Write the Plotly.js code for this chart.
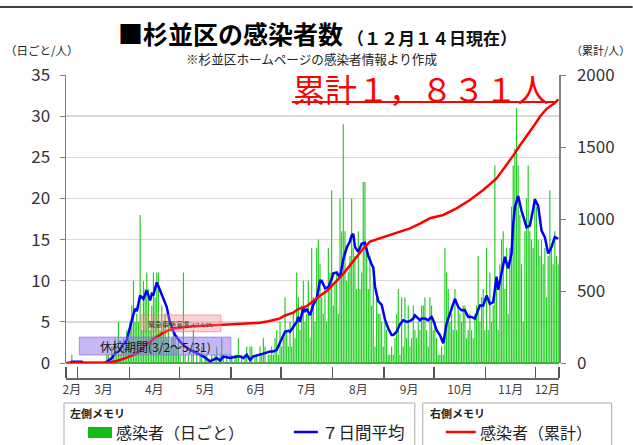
<!DOCTYPE html>
<html><head><meta charset="utf-8">
<script src="https://cdn.plot.ly/plotly-3.0.1.min.js"></script>
<style>html,body{margin:0;padding:0;background:#fff;}#chart{width:633px;height:445px;}</style>
</head><body><div id="chart"></div>
<script>
// ---- data ----
const startYear = 2020, startMonth = 1, startDay = 23; // 2020-02-23 = day index 0
const daily = [
 // Feb 23-29
 0,0,0,1,0,0,0,
 // Mar
 0,0,0,0,0,0,0,0,0,0,0,0,0,0,0,0,0,1,1,0,2,1,3,1,5,1,2,3,2,4,3,
 // Apr
 5,7,10,5,6,5,18,4,10,9,11,9,4,7,11,8,11,11,4,7,5,6,3,5,2,3,4,3,2,3,
 // May
 1,0,11,1,0,1,0,1,4,0,2,0,1,2,0,1,1,0,0,1,0,1,2,0,1,3,1,0,1,0,1,
 // Jun
 1,0,1,1,3,0,1,0,1,2,0,2,2,0,1,1,0,2,1,3,2,0,1,1,2,1,3,4,1,5,
 // Jul
 2,3,8,4,2,5,2,6,3,11,8,4,7,10,5,6,10,3,14,8,5,14,15,12,8,6,9,5,14,11,21,
 // Aug
 7,10,11,6,20,16,29,16,10,11,13,20,14,13,9,16,9,11,22,22,14,9,13,7,10,2,8,6,6,5,2,
 // Sep
 5,4,1,1,2,1,3,6,9,1,8,2,8,3,7,2,3,7,4,3,5,4,7,7,8,4,2,8,7,4,
 // Oct
 5,3,1,1,2,1,14,11,9,5,6,4,9,4,7,6,5,7,7,3,4,6,4,3,6,7,13,5,8,9,4,
 // Nov
 14,4,11,5,7,24,10,4,12,15,16,9,14,6,14,19,24,26,31,24,18,12,5,16,20,24,16,15,14,20,
 // Dec 1-14
 19,15,13,15,12,14,8,13,21,14,12,16,13,12
];
// 7-day average (blue line), read at these day indices
const avgDayIndex = [0,2,3,9,10,23,25,27,29,31,33,36,39,41,42,44,46,48,50,51,52,54,56,58,60,62,65,68,71,74,78,82,86,88,90,92,94,96,98,100,102,104,106,108,110,112,114,116,119,122,124,126,128,129,131,133,134,136,138,139,140,142,143,144,146,148,150,152,153,155,157,159,160,162,164,166,168,170,171,172,173,175,177,179,181,183,184,185,187,189,191,193,195,196,198,200,202,204,206,208,209,210,212,213,215,217,219,220,222,224,226,228,230,233,235,237,239,241,243,245,248,250,252,254,256,258,259,261,263,265,267,268,269,271,273,276,278,280,281,283,285,287,289,291,293,295];
const avgValues   = [0,0,0.14,0.14,0,0,0.3,0.6,1.2,1.4,2,2.8,5.2,6.6,6.3,8.2,7.8,8.8,7.6,8.4,8.3,9.8,8.8,7.8,6.8,4.8,3.4,2.6,2.0,1.6,1.2,0.8,0.2,0.4,0.6,0.3,0.8,0.7,0.6,0.7,0.8,0.8,0.6,1,0.4,0.8,0.9,1,1.2,1.4,1.4,1.6,2.4,2.8,3.8,3.9,3.8,4.4,5,5.6,5,6.7,6.2,6.6,5.8,7.1,7.8,10,10,9.1,9.2,10.2,10.9,11,10.4,12.6,14,14.8,15.5,15.7,14.1,13.5,14.5,14.6,13,12,11.6,9.3,7.5,7.1,5.3,4.2,3.4,3.4,3.8,4.7,5.2,5,5.1,5.4,5.8,5.6,5.2,5.4,5.4,5.2,5.6,5.2,4,3.4,2.4,4.8,6,7.8,6.8,6.4,6.4,5.6,5.6,5.4,7,7,8.2,7.2,7.4,10.5,8.9,11,12.9,11.5,13.3,16.9,18.9,20.3,18.5,16.5,16.7,18.7,19.9,19.1,16.1,15.3,13.3,14.1,15.3,15.1];
// cumulative (red line, right axis), read at these day indices
const cumDayIndex = [0,3,24,30,36,42,46,52,56,58,64,72,82,92,102,112,116,121,128,131,136,139,144,150,156,162,166,170,174,178,182,186,188,194,200,206,212,218,226,234,242,250,258,264,268,272,276,280,284,288,293,295];
const cumValues   = [0,1,2,14,37,67,110,168,195,212,240,252,259,264,269,275,279,290,310,330,350,375,395,449,500,570,620,678,735,795,843,858,866,889,912,935,968,1005,1028,1074,1132,1201,1282,1375,1440,1510,1572,1640,1710,1765,1805,1831];
const monthLabels = ['2月','3月','4月','5月','6月','7月','8月','9月','10月','11月','12月'];
const monthEdges  = ['2020-02-23','2020-03-01','2020-04-01','2020-05-01','2020-06-01','2020-07-01','2020-08-01','2020-09-01','2020-10-01','2020-11-01','2020-12-01','2020-12-15'];

// ---- helpers ----
function dayToDate(i){
  const d = new Date(Date.UTC(startYear, startMonth, startDay + i, 12));
  return d.toISOString().slice(0,10) + ' 12:00';
}
function midDate(a,b){
  const t = (Date.parse(a+'T00:00:00Z') + Date.parse(b+'T00:00:00Z'))/2;
  return new Date(t).toISOString().slice(0,16).replace('T',' ');
}
const dailyDates = daily.map((v,i)=>dayToDate(i));
const avgDates = avgDayIndex.map(dayToDate);
const cumDates = cumDayIndex.map(dayToDate);
const monthMids = monthLabels.map((m,k)=>midDate(monthEdges[k], monthEdges[k+1]));

const FONT = '"Noto Sans CJK JP", "Noto Sans", sans-serif';
const L = 66, R = 559.3, T = 75, B = 378, Y0 = 363;
const X = px => (px - L)/(R - L);
const Y = py => (B - py)/(B - T);

const traces = [
  {type:'bar', x: dailyDates, y: daily, marker:{color:'#22cc22', line:{width:0}}, yaxis:'y', xaxis:'x', hoverinfo:'skip'},
  {type:'scatter', mode:'lines', x: avgDates, y: avgValues, line:{color:'#0000ff', width:2.5}, yaxis:'y', hoverinfo:'skip'},
  {type:'scatter', mode:'lines', x: cumDates, y: cumValues, line:{color:'#ff0000', width:2.5}, yaxis:'y2', hoverinfo:'skip'}
];

function txt(text, px, py, size, opts){
  return Object.assign({text:text, xref:'paper', yref:'paper', x:X(px), y:Y(py), showarrow:false,
    xanchor:'left', yanchor:'middle', font:{family:FONT, size:size, color:'#222'}}, opts||{});
}

const layout = {
  width:633, height:445,
  margin:{l:L, r:633-R, t:T, b:445-B, pad:0},
  paper_bgcolor:'#ffffff', plot_bgcolor:'#ffffff',
  showlegend:false, hovermode:false,
  bargap:0.3,
  font:{family:FONT, color:'#333'},
  xaxis:{type:'date', range:['2020-02-23','2020-12-15'], anchor:'free', position:0,
    showline:true, linecolor:'#666', linewidth:1.5, showgrid:false, zeroline:false,
    tickmode:'array', tickvals:monthMids, ticktext:monthLabels, ticks:'', 
    tickfont:{family:FONT, size:12, color:'#404040'},
    minor:{tickmode:'array', tickvals:monthEdges, ticks:'inside', ticklen:11, tickwidth:1.5, tickcolor:'#555', showgrid:false}},
  yaxis:{domain:[(B-Y0)/(B-T),1], range:[0,35], tickmode:'linear', tick0:0, dtick:5,
    showline:true, linecolor:'#7f7f7f', linewidth:1.5, ticks:'outside', ticklen:5, tickcolor:'#7f7f7f',
    showgrid:true, gridcolor:'#d9d9d9', gridwidth:1.5, zeroline:true, zerolinecolor:'#7f7f7f', zerolinewidth:1.5,
    tickfont:{family:FONT, size:17, color:'#333'}, ticklabelstandoff:6},
  yaxis2:{overlaying:'y', side:'right', range:[0,2000], tickmode:'linear', tick0:0, dtick:500,
    showline:true, linecolor:'#7f7f7f', linewidth:1.5, ticks:'outside', ticklen:5, tickcolor:'#7f7f7f',
    showgrid:false, zeroline:false, tickfont:{family:FONT, size:17, color:'#333'}, ticklabelstandoff:8},
  shapes:[
    {type:'line', xref:'paper', yref:'paper', x0:X(0), x1:X(633), y0:Y(7), y1:Y(7), line:{color:'#000', width:1.5}},
    {type:'rect', xref:'x', yref:'y', x0:'2020-03-02', x1:'2020-06-01', y0:0.97, y1:3.15, layer:'above',
      fillcolor:'rgba(140,110,240,0.5)', line:{color:'rgba(130,100,220,0.6)', width:1}},
    {type:'rect', xref:'x', yref:'y', x0:'2020-04-08', x1:'2020-05-26', y0:3.8, y1:5.83, layer:'above',
      fillcolor:'rgba(255,130,130,0.35)', line:{color:'rgba(240,110,110,0.6)', width:1}},
    // white strip behind the big red total (hides the top gridline there)
    {type:'rect', xref:'paper', yref:'paper', x0:X(290), x1:X(553), y0:Y(78), y1:Y(72), layer:'above', fillcolor:'#ffffff', line:{width:0}},
    {type:'line', xref:'paper', yref:'paper', x0:X(292), x1:X(555), y0:Y(102), y1:Y(102), layer:'above', line:{color:'#ff0000', width:2}},
    // legend boxes
    {type:'rect', xref:'paper', yref:'paper', x0:X(64), x1:X(415), y0:Y(403), y1:Y(452), line:{color:'#aaa', width:1}},
    {type:'rect', xref:'paper', yref:'paper', x0:X(423), x1:X(612), y0:Y(403), y1:Y(452), line:{color:'#aaa', width:1}},
    {type:'rect', xref:'paper', yref:'paper', x0:X(88), x1:X(112), y0:Y(427), y1:Y(438), fillcolor:'#11bb11', line:{width:0}},
    {type:'line', xref:'paper', yref:'paper', x0:X(294), x1:X(318), y0:Y(432), y1:Y(432), line:{color:'#0000ff', width:2.5}},
    {type:'line', xref:'paper', yref:'paper', x0:X(446), x1:X(476), y0:Y(432), y1:Y(432), line:{color:'#ff0000', width:2.5}}
  ],
  annotations:[
    txt('<b>■杉並区の感染者数</b>', 116, 33.5, 25, {font:{family:FONT, size:25, color:'#000'}}),
    txt('<b>（１２月１４日現在）</b>', 345, 37.5, 17, {font:{family:FONT, size:17, color:'#111'}}),
    txt('※杉並区ホームページの感染者情報より作成', 312, 58.5, 12.6, {xanchor:'center'}),
    txt('（日ごと/人）', 42, 50, 11.5, {xanchor:'center'}),
    txt('（累計/人）', 632, 50, 11, {xanchor:'right'}),
    txt('累計１，８３１人', 421, 88, 32, {xanchor:'center', font:{family:FONT, size:32, color:'#ff0000'}}),
    {text:'休校期間(3/2～5/31)', xref:'x', yref:'y', x:midDate('2020-03-02','2020-06-01'), y:2.06, showarrow:false,
      font:{family:FONT, size:12, color:'#111'}},
    {text:'緊急事態宣言<span style="font-size:5px">(4/7-5/25)</span>', xref:'x', yref:'y', x:midDate('2020-04-08','2020-05-26'), y:4.8, showarrow:false,
      font:{family:FONT, size:7, color:'#333'}},
    txt('<b>左側メモリ</b>', 68, 413, 11),
    txt('感染者（日ごと）', 114, 432, 16),
    txt('７日間平均', 320, 432, 16.5),
    txt('<b>右側メモリ</b>', 428, 413, 11),
    txt('感染者（累計）', 478, 432, 16)
  ]
};

Plotly.newPlot('chart', traces, layout, {staticPlot:true, displayModeBar:false});
</script>
</body></html>
